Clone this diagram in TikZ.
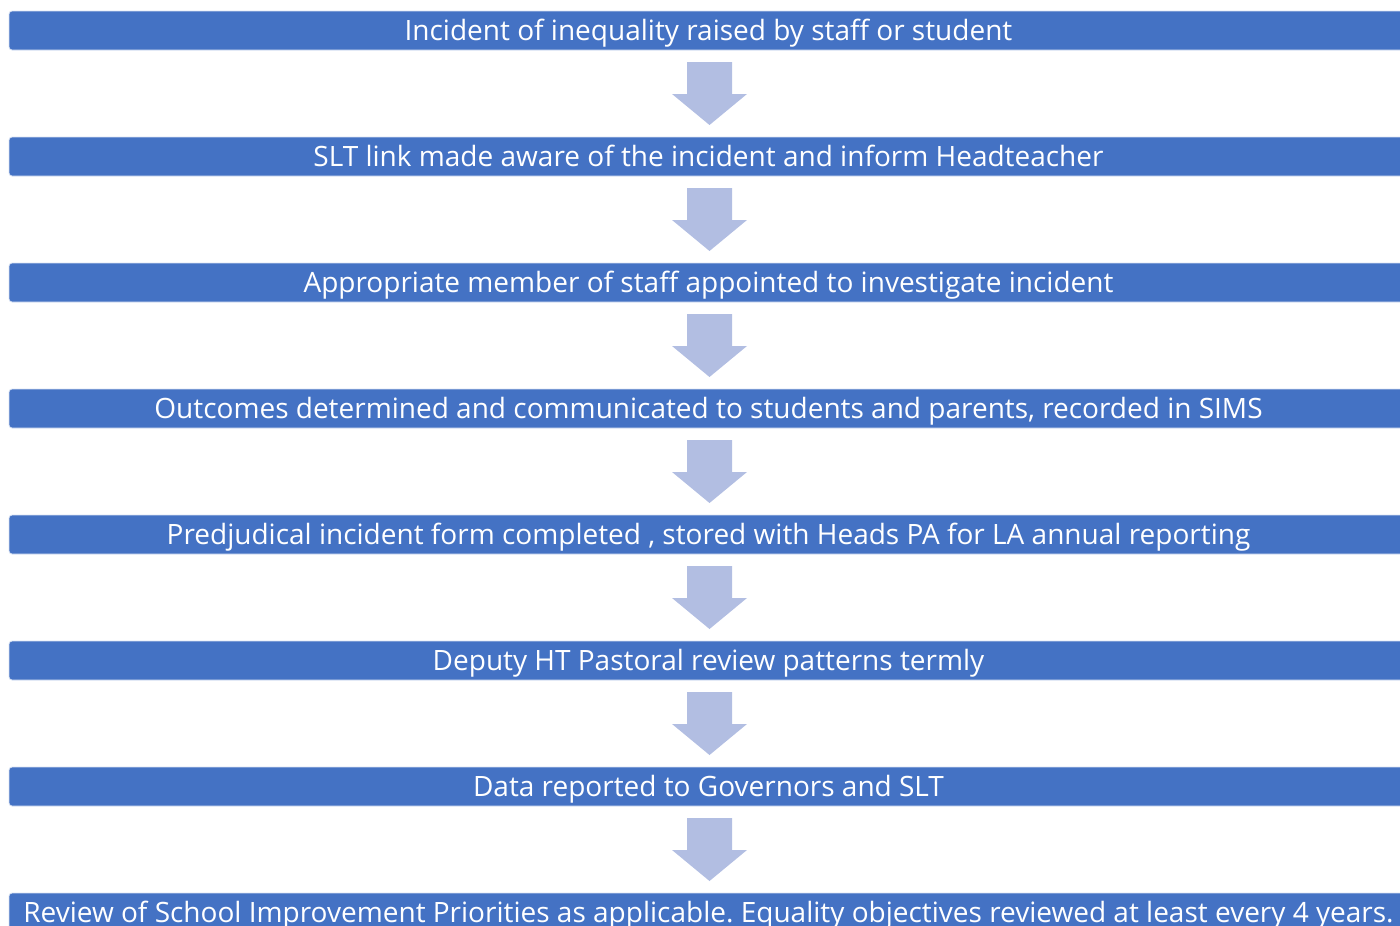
\documentclass[tikz,border=0pt]{standalone}
\usepackage{fontspec}
\setmainfont{Open Sans}
\frenchspacing
\definecolor{barblue}{RGB}{68,114,196}
\definecolor{arrowblue}{RGB}{178,190,226}
\tikzset{
  bar/.style={fill=barblue, draw=white!80!barblue, line width=0.8pt, rounded corners=3pt},
  bartext/.style={anchor=base, text=white, font=\fontsize{28}{30}\selectfont, inner sep=0pt},
  flowarrow/.style={fill=arrowblue, draw=none}
}
\begin{document}
\begin{tikzpicture}[x=1pt,y=-1pt]
\useasboundingbox (0,0) rectangle (1400,926);
\clip (0,0) rectangle (1400,926);
\foreach \i/\t in {0/{Incident of inequality raised by staff or student},
                   1/{SLT link made aware of the incident and inform Headteacher},
                   2/{Appropriate member of staff appointed to investigate incident},
                   3/{Outcomes determined and communicated to students and parents, recorded in SIMS},
                   4/{Predjudical incident form completed , stored with Heads PA for LA annual reporting},
                   5/{Deputy HT Pastoral review patterns termly},
                   6/{Data reported to Governors and SLT},
                   7/{Review of School Improvement Priorities as applicable. Equality objectives reviewed at least every 4 years.}}{
  \pgfmathsetmacro{\top}{11+126*\i}
  \draw[bar] (9,\top) rectangle (1410,\top+39);
  \node[bartext] (t\i) at (708.5,\top+29) {\t};
}
\foreach \i in {0,...,6}{
  \pgfmathsetmacro{\a}{62+126*\i}
  \fill[flowarrow] (687,\a) -- (732,\a) -- (732,\a+32) -- (747,\a+32) -- (709.5,\a+63) -- (672,\a+32) -- (687,\a+32) -- cycle;
}
\end{tikzpicture}
\end{document}
